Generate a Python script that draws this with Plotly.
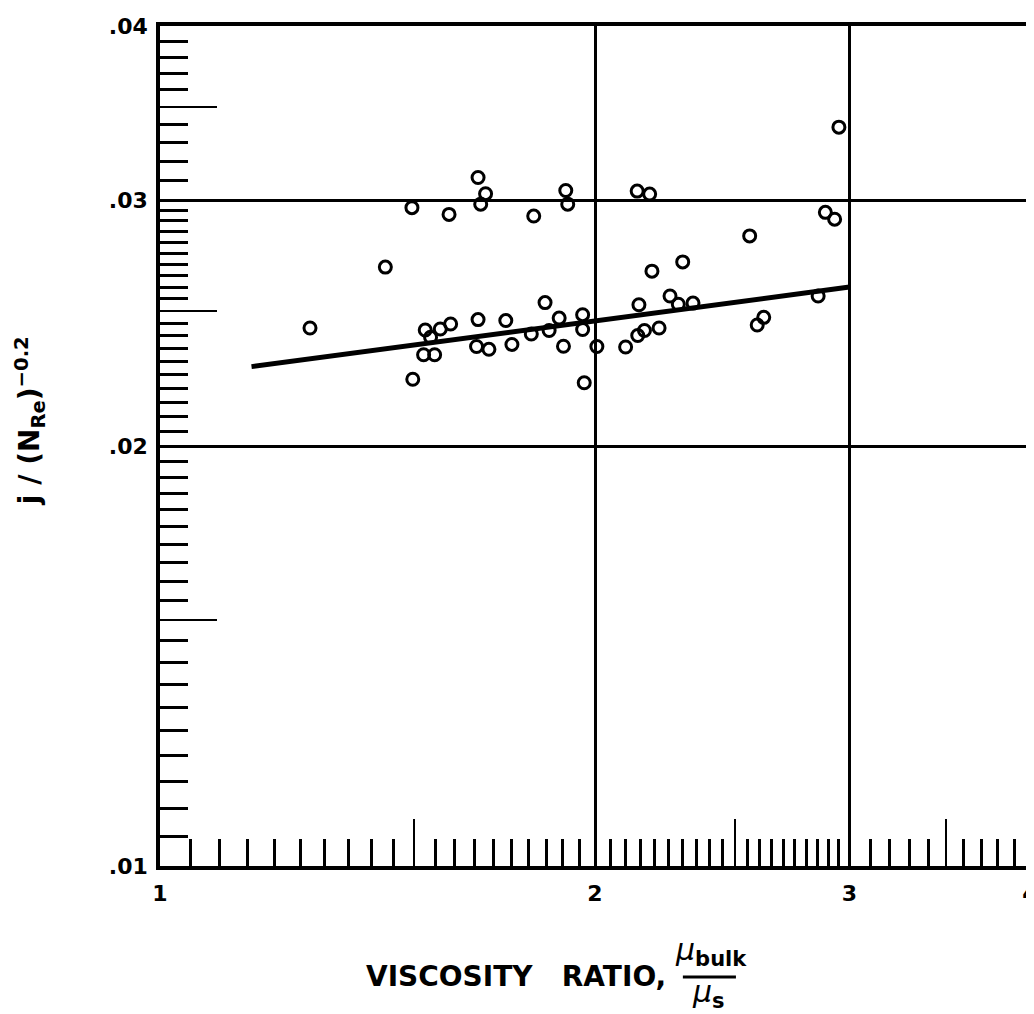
import math
import plotly.graph_objects as go

# ---- data ----
ratio = [1.270, 1.432, 1.494, 1.496, 1.526, 1.539, 1.522, 1.549, 1.563, 1.589,
         1.585, 1.660, 1.680, 1.667, 1.660, 1.656, 1.689, 1.735, 1.752, 1.814,
         1.807, 1.847, 1.859, 1.889, 1.902, 1.909, 1.915, 1.961, 1.961, 1.966,
         2.006, 2.100, 2.139, 2.182, 2.145, 2.141, 2.164, 2.190, 2.215, 2.254,
         2.284, 2.338, 2.300, 2.559, 2.590, 2.617, 2.854, 2.887, 2.930, 2.950]
jfac = [0.02430, 0.02687, 0.02964, 0.02233, 0.02422, 0.02393, 0.02325, 0.02325, 0.02426, 0.02446,
        0.02931, 0.03115, 0.03033, 0.02981, 0.02464, 0.02357, 0.02346, 0.02460, 0.02365, 0.02923,
        0.02406, 0.02534, 0.02420, 0.02470, 0.02358, 0.03049, 0.02981, 0.02484, 0.02424, 0.02220,
        0.02357, 0.02355, 0.03046, 0.03031, 0.02525, 0.02400, 0.02420, 0.02669, 0.02430, 0.02562,
        0.02527, 0.02532, 0.02710, 0.02829, 0.02442, 0.02473, 0.02562, 0.02941, 0.02908, 0.03385]

fit_x = [1.157, 3.0]
fit_y = [0.0228, 0.0260]

# ---- tick positions / labels ----
x_major = [1, 2, 3, 4]
x_major_text = ["1", "2", "3", "4"]
x_mid = [1.5, 2.5, 3.5]
x_minor = ([round(1 + 0.05 * i, 3) for i in range(1, 20) if i != 10] +
           [round(2 + 0.05 * i, 3) for i in range(1, 20) if i != 10] +
           [round(3 + 0.1 * i, 3) for i in range(1, 10) if i != 5])

y_major = [0.01, 0.02, 0.03, 0.04]
y_major_text = [".01", ".02", ".03", ".04"]
y_mid = [0.015, 0.025, 0.035]
y_minor = ([round(0.01 + 0.0005 * i, 5) for i in range(1, 20) if i != 10] +
           [round(0.02 + 0.0005 * i, 5) for i in range(1, 20) if i != 10] +
           [round(0.03 + 0.001 * i, 5) for i in range(1, 10) if i != 5])

xr = [0, math.log10(4)]
yr = [-2, math.log10(0.04)]

fig = go.Figure()

fig.add_trace(go.Scatter(
    x=fit_x, y=fit_y, mode="lines",
    line=dict(color="black", width=5), showlegend=False, hoverinfo="skip"))

fig.add_trace(go.Scatter(
    x=ratio, y=jfac, mode="markers",
    marker=dict(symbol="circle-open", size=12, color="black",
                line=dict(color="black", width=3)),
    showlegend=False))

# invisible trace hosting the overlay axes (mid-length ticks)
fig.add_trace(go.Scatter(x=[1.5], y=[0.015], xaxis="x2", yaxis="y2",
                         mode="markers", marker=dict(opacity=0),
                         showlegend=False, hoverinfo="skip"))

tick_font = dict(family="DejaVu Sans", size=22, color="black", weight="bold")

# page body has an 8px margin, so the figure is 8px smaller than the window
fig.update_layout(
    width=1026, height=1006,
    margin=dict(l=152, r=4, t=18, b=148),
    paper_bgcolor="white", plot_bgcolor="white",
    xaxis=dict(
        type="log", range=xr, automargin=False, ticklabeloverflow="allow",
        tickmode="array", tickvals=x_major, ticktext=x_major_text,
        ticks="", showgrid=True, gridcolor="black", gridwidth=3,
        showline=True, linecolor="black", linewidth=3.5, mirror=True,
        tickfont=tick_font, ticklabelstandoff=5, zeroline=False,
        minor=dict(tickmode="array", tickvals=x_minor, ticks="inside",
                   ticklen=27, tickwidth=3, tickcolor="black", showgrid=False),
    ),
    yaxis=dict(
        type="log", range=yr, automargin=False, ticklabeloverflow="allow",
        tickmode="array", tickvals=y_major, ticktext=y_major_text,
        ticks="", showgrid=True, gridcolor="black", gridwidth=3,
        showline=True, linecolor="black", linewidth=3.5, mirror=True,
        tickfont=tick_font, ticklabelstandoff=4, zeroline=False,
        minor=dict(tickmode="array", tickvals=y_minor, ticks="inside",
                   ticklen=28, tickwidth=3, tickcolor="black", showgrid=False),
    ),
    xaxis2=dict(
        type="log", range=xr, overlaying="x", anchor="y", side="bottom",
        automargin=False,
        tickmode="array", tickvals=x_mid, ticks="inside", ticklen=47,
        tickwidth=2, tickcolor="black", showticklabels=False,
        showgrid=False, showline=False, zeroline=False,
    ),
    yaxis2=dict(
        type="log", range=yr, overlaying="y", anchor="x", side="left",
        automargin=False,
        tickmode="array", tickvals=y_mid, ticks="inside", ticklen=57,
        tickwidth=2, tickcolor="black", showticklabels=False,
        showgrid=False, showline=False, zeroline=False,
    ),
)

# axis titles
fig.add_annotation(
    text="j / (N<sub>Re</sub>)<sup>\u22120.2</sup>",
    xref="paper", yref="paper", x=-0.149, y=0.530,
    xanchor="center", yanchor="middle", textangle=-90, showarrow=False,
    font=dict(family="DejaVu Sans", size=28, color="black", weight="bold"))

fig.add_annotation(
    text="VISCOSITY   RATIO,",
    xref="paper", yref="paper", x=0.584, y=-0.132,
    xanchor="right", yanchor="middle", showarrow=False,
    font=dict(family="DejaVu Sans", size=28, color="black", weight="bold"))

fig.add_annotation(
    text="<i>\u03bc</i><sub><b>bulk</b></sub>",
    xref="paper", yref="paper", x=0.633, y=-0.102,
    xanchor="center", yanchor="middle", showarrow=False,
    font=dict(family="DejaVu Sans", size=30, color="black"))

fig.add_annotation(
    text="<i>\u03bc</i><sub><b>s</b></sub>",
    xref="paper", yref="paper", x=0.631, y=-0.152,
    xanchor="center", yanchor="middle", showarrow=False,
    font=dict(family="DejaVu Sans", size=30, color="black"))

fig.add_shape(type="line", xref="paper", yref="paper",
              x0=0.601, x1=0.662, y0=-0.132, y1=-0.132,
              line=dict(color="black", width=3))

fig.write_html("out.html")
